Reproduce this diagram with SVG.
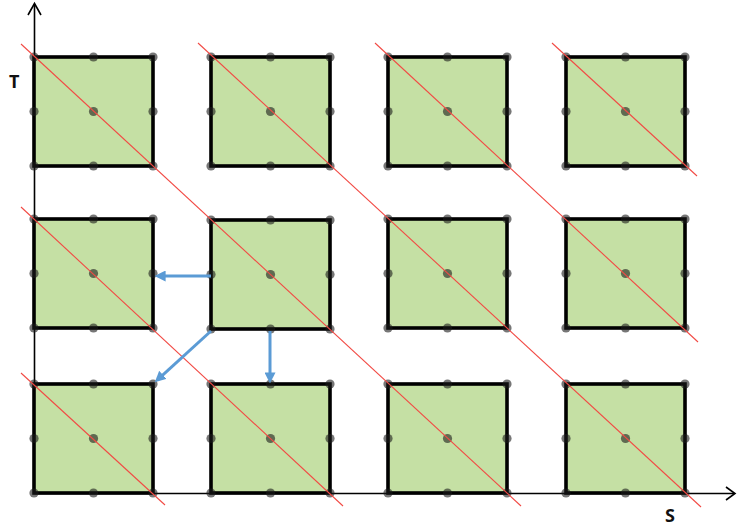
<svg xmlns="http://www.w3.org/2000/svg" width="737" height="527" viewBox="0 0 737 527">
<style>
.sq{fill:#c5e0a4;stroke:#000;stroke-width:3.6}
.dot{fill:#1a1a1a;fill-opacity:0.6}
.diag{stroke:#f24a44;stroke-width:1.1;fill:none}
.axis{stroke:#000;stroke-width:1.6;fill:none}
.arr{stroke:#5b9bd5;stroke-width:3;fill:none;marker-end:url(#ah)}
.lbl{font-family:"Open Sans","Liberation Sans",Arial,sans-serif;font-weight:bold;font-size:18px;fill:#111}
</style>
<defs>
<marker id="ah" viewBox="0 0 10 10" refX="6" refY="5" markerWidth="11" markerHeight="11" markerUnits="userSpaceOnUse" orient="auto">
<path d="M0,0 L10,5 L0,10 Z" fill="#5b9bd5"/>
</marker>
<g id="cell">
<rect class="sq" x="0" y="0" width="119" height="109"/>
<circle class="dot" cx="0" cy="0" r="4.6"/>
<circle class="dot" cx="59.5" cy="0" r="4.6"/>
<circle class="dot" cx="119" cy="0" r="4.6"/>
<circle class="dot" cx="0" cy="54.5" r="4.6"/>
<circle class="dot" cx="59.5" cy="54.5" r="4.6"/>
<circle class="dot" cx="119" cy="54.5" r="4.6"/>
<circle class="dot" cx="0" cy="109" r="4.6"/>
<circle class="dot" cx="59.5" cy="109" r="4.6"/>
<circle class="dot" cx="119" cy="109" r="4.6"/>
</g>
</defs>
<g id="axes">
<line class="axis" x1="34.5" y1="4" x2="34.5" y2="493.5"/>
<polyline class="axis" points="28,15 34.5,3.5 41,15"/>
<line class="axis" x1="34.5" y1="493.5" x2="734" y2="493.5"/>
<polyline class="axis" points="726,487 735,493.5 726,500"/>
<text class="lbl" x="9" y="88">T</text>
<text class="lbl" x="665" y="522">S</text>
</g>
<g id="r0c0"><use href="#cell" x="34" y="57"/></g>
<g id="r0c1"><use href="#cell" x="211" y="57"/></g>
<g id="r0c2"><use href="#cell" x="388" y="57"/></g>
<g id="r0c3"><use href="#cell" x="566" y="57"/></g>
<g id="r1c0"><use href="#cell" x="34" y="219"/></g>
<g id="r1c1"><use href="#cell" x="211" y="220"/></g>
<g id="r1c2"><use href="#cell" x="388" y="219"/></g>
<g id="r1c3"><use href="#cell" x="566" y="219"/></g>
<g id="r2c0"><use href="#cell" x="34" y="384"/></g>
<g id="r2c1"><use href="#cell" x="211" y="384"/></g>
<g id="r2c2"><use href="#cell" x="388" y="384"/></g>
<g id="r2c3"><use href="#cell" x="566" y="384"/></g>
<g id="diagonals">
<line class="diag" x1="21" y1="44" x2="521" y2="506"/>
<line class="diag" x1="198" y1="43" x2="701" y2="507"/>
<line class="diag" x1="375" y1="43" x2="698" y2="342"/>
<line class="diag" x1="552" y1="43" x2="697" y2="176"/>
<line class="diag" x1="21" y1="207" x2="343" y2="506"/>
<line class="diag" x1="21" y1="373" x2="165" y2="505"/>
</g>
<g id="connectors">
<line class="arr" x1="211" y1="276" x2="159" y2="276"/>
<line class="arr" x1="211" y1="331" x2="158" y2="379.3"/>
<line class="arr" x1="270" y1="331" x2="270" y2="379"/>
</g>
</svg>
